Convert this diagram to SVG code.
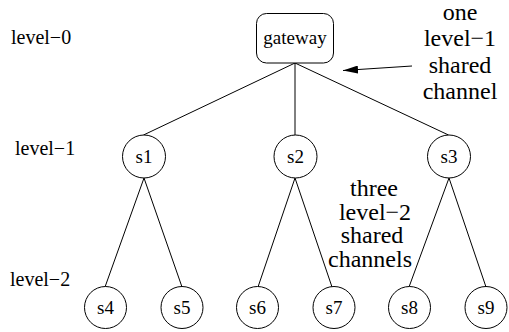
<svg xmlns="http://www.w3.org/2000/svg" width="509" height="332" viewBox="0 0 509 332">
<defs>
<style>
text{font-family:"Liberation Serif","Times New Roman",serif;fill:#000}
.lv{font-size:20px}
.nd{font-size:19px;text-anchor:middle}
.lb{font-size:24px;text-anchor:middle}
.sh{fill:#fff;stroke:#000;stroke-width:1}
.cn{stroke:#000;stroke-width:1;fill:none}
</style>
<marker id="ah" viewBox="0 0 15 8" refX="15" refY="4" markerWidth="15" markerHeight="8" markerUnits="userSpaceOnUse" orient="auto">
<path d="M0,0 L15,4 L0,8 Z" fill="#000"/>
</marker>
</defs>
<rect width="509" height="332" fill="#fff"/>
<g id="connectors">
<line class="cn" x1="295" y1="63" x2="143.5" y2="135"/>
<line class="cn" x1="295" y1="63" x2="295" y2="135"/>
<line class="cn" x1="295" y1="63" x2="448.5" y2="135"/>
<line class="cn" x1="144" y1="178" x2="105" y2="287"/>
<line class="cn" x1="144" y1="178" x2="182" y2="287"/>
<line class="cn" x1="295" y1="178" x2="258" y2="287"/>
<line class="cn" x1="295" y1="178" x2="332" y2="287"/>
<line class="cn" x1="449" y1="178" x2="409" y2="287"/>
<line class="cn" x1="449" y1="178" x2="486" y2="287"/>
<line class="cn" x1="412" y1="66" x2="343" y2="70.5" marker-end="url(#ah)"/>
</g>
<g id="labels">
<text class="lv" x="11" y="44">level−0</text>
<text class="lv" x="15" y="155">level−1</text>
<text class="lv" x="10" y="286">level−2</text>
<text class="lb" x="460" y="20">one</text>
<text class="lb" x="460" y="46">level−1</text>
<text class="lb" x="460" y="72.5">shared</text>
<text class="lb" x="460" y="99">channel</text>
<text class="lb" x="374" y="196">three</text>
<text class="lb" x="375" y="219.5">level−2</text>
<text class="lb" x="372" y="243">shared</text>
<text class="lb" x="370" y="266.5">channels</text>
</g>
<g id="gateway">
<rect class="sh" x="256.5" y="13.5" width="77" height="49.5" rx="10" ry="10"/>
<text class="nd" x="295" y="44" font-size="20">gateway</text>
</g>
<g id="s1"><circle class="sh" cx="144" cy="156.5" r="21.5"/><text class="nd" x="144" y="163">s1</text></g>
<g id="s2"><circle class="sh" cx="295.5" cy="156.5" r="21.5"/><text class="nd" x="295.5" y="163">s2</text></g>
<g id="s3"><circle class="sh" cx="449" cy="156.5" r="21.5"/><text class="nd" x="449" y="163">s3</text></g>
<g id="s4"><circle class="sh" cx="105.5" cy="307.5" r="21"/><text class="nd" x="105.5" y="314">s4</text></g>
<g id="s5"><circle class="sh" cx="182" cy="307.5" r="21"/><text class="nd" x="182" y="314">s5</text></g>
<g id="s6"><circle class="sh" cx="257.5" cy="307.5" r="21"/><text class="nd" x="257.5" y="314">s6</text></g>
<g id="s7"><circle class="sh" cx="334" cy="307.5" r="21"/><text class="nd" x="334" y="314">s7</text></g>
<g id="s8"><circle class="sh" cx="409.5" cy="307.5" r="21"/><text class="nd" x="409.5" y="314">s8</text></g>
<g id="s9"><circle class="sh" cx="486" cy="307.5" r="21"/><text class="nd" x="486" y="314">s9</text></g>
</svg>
